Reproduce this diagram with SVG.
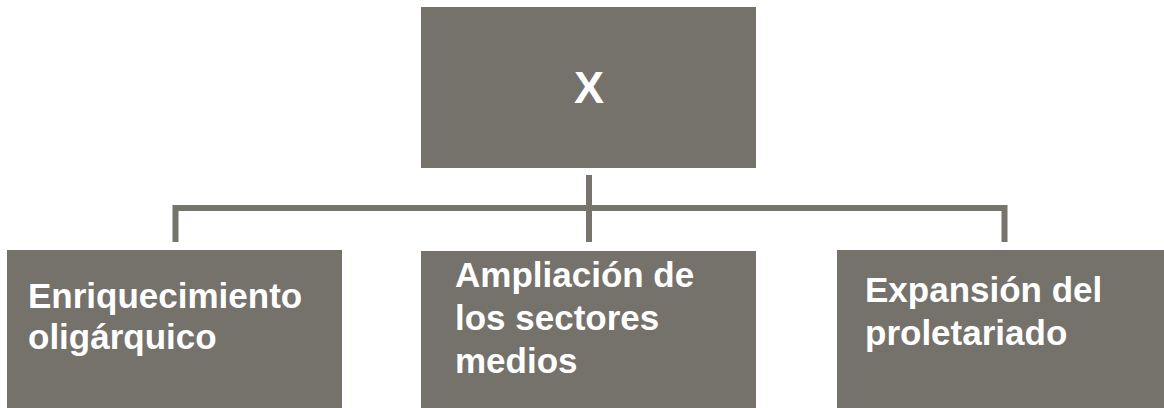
<svg xmlns="http://www.w3.org/2000/svg" width="1164" height="408" viewBox="0 0 1164 408">
<style>
.box{fill:#75716b;}
.lbl{font-family:"Liberation Sans",Arial,sans-serif;font-weight:bold;fill:#ffffff;font-size:35px;}
.con{stroke:#77736d;stroke-width:6;fill:none;stroke-linecap:butt;}
</style>
<rect width="1164" height="408" fill="#ffffff"/>
<g id="connectors">
<line class="con" x1="589" y1="175" x2="589" y2="242"/>
<polyline class="con" points="175.5,242 175.5,208 1004.5,208 1004.5,242"/>
</g>
<g id="node-x">
<rect class="box" x="421" y="7" width="335" height="161"/>
<text class="lbl" x="589" y="103" text-anchor="middle" style="font-size:45px">X</text>
</g>
<g id="node-enriquecimiento">
<rect class="box" x="7" y="250" width="335" height="170"/>
<text class="lbl" x="28" y="308">Enriquecimiento</text>
<text class="lbl" x="28" y="349">oligárquico</text>
</g>
<g id="node-ampliacion">
<rect class="box" x="421" y="251" width="335" height="170"/>
<text class="lbl" x="455" y="287">Ampliación de</text>
<text class="lbl" x="455" y="330">los sectores</text>
<text class="lbl" x="455" y="373">medios</text>
</g>
<g id="node-expansion">
<rect class="box" x="837" y="250" width="327" height="170"/>
<text class="lbl" x="865" y="302">Expansión del</text>
<text class="lbl" x="865" y="345">proletariado</text>
</g>
</svg>
